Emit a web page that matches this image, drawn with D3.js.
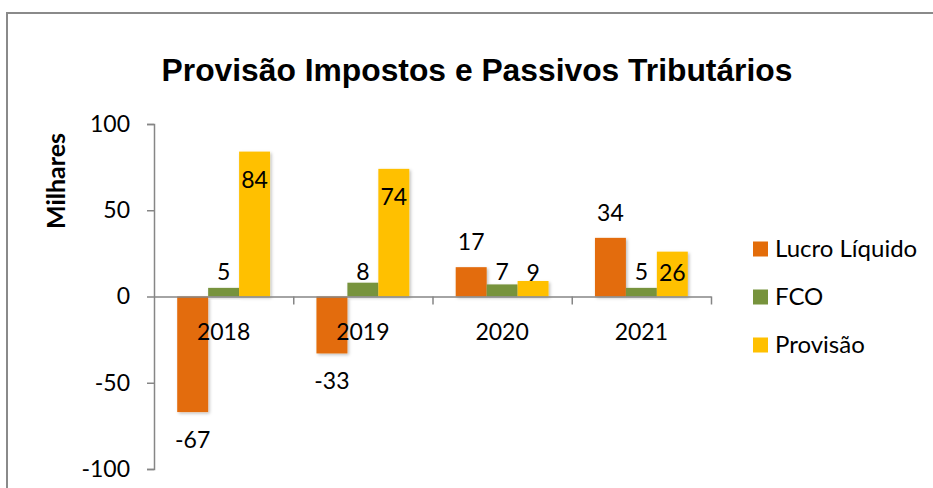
<!DOCTYPE html>
<html>
<head>
<meta charset="utf-8">
<script src="https://cdn.jsdelivr.net/npm/d3@7"></script>
<style>
  body { margin: 0; background: #fff; }
  text { font-family: Lato, "Open Sans", sans-serif; fill: #000; }
</style>
</head>
<body>
<div id="chart"></div>
<script>
const years = ["2018", "2019", "2020", "2021"];
const seriesNames = ["Lucro Líquido", "FCO", "Provisão"];
const lucroLiquido = [-67, -33, 17, 34];
const fco = [5, 8, 7, 5];
const provisao = [84, 74, 9, 26];
const yTicks = [100, 50, 0, -50, -100];
const colors = ["#E36C09", "#77933C", "#FFC000"];

const W = 933, H = 488;
const margin = { top: 124, right: 222, bottom: 19, left: 154 };

const svg = d3.select("#chart")
  .append("svg")
  .attr("width", W)
  .attr("height", H);

// soft shadow under bars
const defs = svg.append("defs");
defs.append("filter")
  .attr("id", "shadow")
  .attr("x", "-20%").attr("y", "-20%")
  .attr("width", "150%").attr("height", "150%")
  .append("feDropShadow")
  .attr("dx", 1.5).attr("dy", 1.5)
  .attr("stdDeviation", 1.5)
  .attr("flood-color", "#000")
  .attr("flood-opacity", 0.25);

// chart frame (left and top edges)
svg.append("path")
  .attr("d", `M7,${H} V13 H${W}`)
  .attr("fill", "none")
  .attr("stroke", "#8a8a8a")
  .attr("stroke-width", 2);

// title
svg.append("text")
  .attr("x", 477)
  .attr("y", 81)
  .attr("text-anchor", "middle")
  .style("font-family", "'Liberation Sans', Arial, sans-serif")
  .style("font-weight", "bold")
  .style("font-size", "31.8px")
  .text("Provisão Impostos e Passivos Tributários");

// Scales
const x = d3.scaleBand()
  .domain(years)
  .range([margin.left, W - margin.right])
  .paddingInner(0)
  .paddingOuter(0);

const y = d3.scaleLinear()
  .domain([-100, 100])
  .range([H - margin.bottom, margin.top]);

const barW = x.bandwidth() / 4.5;
const x1 = d3.scaleBand()
  .domain(seriesNames)
  .range([(x.bandwidth() - 3 * barW) / 2, (x.bandwidth() + 3 * barW) / 2]);

// Y axis
const yAxis = svg.append("g")
  .attr("transform", `translate(${margin.left},0)`)
  .call(d3.axisLeft(y).tickValues(yTicks).tickSize(7).tickPadding(17)
    .tickFormat((d) => String(d)));
yAxis.select(".domain").attr("stroke", "#868686").attr("stroke-width", 1.5);
yAxis.selectAll(".tick line").attr("stroke", "#868686").attr("stroke-width", 1.5);
yAxis.selectAll(".tick text")
  .style("font-family", "Lato, sans-serif")
  .style("font-size", "23px")
  .attr("fill", "#000");

// axis title
svg.append("text")
  .attr("transform", "translate(65,181) rotate(-90)")
  .attr("text-anchor", "middle")
  .style("font-weight", "bold")
  .style("font-size", "25px")
  .text("Milhares");

// Bars
const data = years.map((yr, i) => ({
  year: yr,
  values: [
    { name: seriesNames[0], value: lucroLiquido[i], color: colors[0] },
    { name: seriesNames[1], value: fco[i], color: colors[1] },
    { name: seriesNames[2], value: provisao[i], color: colors[2] },
  ],
}));

const groups = svg.selectAll(".group")
  .data(data)
  .enter()
  .append("g")
  .attr("class", "group")
  .attr("transform", (d) => `translate(${x(d.year)},0)`);

groups.selectAll("rect")
  .data((d) => d.values)
  .enter()
  .append("rect")
  .attr("x", (d) => x1(d.name))
  .attr("width", x1.bandwidth())
  .attr("y", (d) => y(Math.max(0, d.value)))
  .attr("height", (d) => Math.abs(y(d.value) - y(0)))
  .attr("fill", (d) => d.color)
  .attr("filter", "url(#shadow)");

// X axis line with downward ticks at category boundaries
const xAxis = svg.append("g")
  .attr("transform", `translate(0,${y(0)})`)
  .call(d3.axisBottom(d3.scaleLinear().domain([0, 4]).range(x.range()))
    .tickValues([1, 2, 3, 4]).tickSize(8).tickSizeOuter(0).tickFormat(""));
xAxis.select(".domain").attr("stroke", "#868686").attr("stroke-width", 1.5);
xAxis.selectAll(".tick line").attr("stroke", "#868686").attr("stroke-width", 1.5);

// category labels (drawn on top of bars)
svg.selectAll(".cat")
  .data(years)
  .enter()
  .append("text")
  .attr("class", "cat")
  .attr("x", (d) => x(d) + x.bandwidth() / 2)
  .attr("y", 332)
  .attr("dy", "0.35em")
  .attr("text-anchor", "middle")
  .style("font-size", "23px")
  .text((d) => d);

// data labels
function labelY(d) {
  if (d.name === seriesNames[0]) return d.value >= 0 ? y(d.value) - 25 : y(d.value) + 28;
  if (d.name === seriesNames[1]) return y(0) - 25;
  return Math.min(y(d.value) + 28, y(0) - 24);
}

groups.selectAll(".lbl")
  .data((d) => d.values)
  .enter()
  .append("text")
  .attr("class", "lbl")
  .attr("x", (d) => x1(d.name) + x1.bandwidth() / 2)
  .attr("y", labelY)
  .attr("dy", "0.35em")
  .attr("text-anchor", "middle")
  .style("font-size", "23px")
  .text((d) => d.value);

// Legend
const legend = svg.append("g").attr("transform", "translate(753,249)");
seriesNames.forEach((name, i) => {
  legend.append("rect")
    .attr("x", 0)
    .attr("y", i * 48 - 7.5)
    .attr("width", 15)
    .attr("height", 15)
    .attr("fill", colors[i]);
  legend.append("text")
    .attr("x", 22)
    .attr("y", i * 48)
    .attr("dy", "0.35em")
    .style("font-size", "24px")
    .text(name);
});
</script>
</body>
</html>
